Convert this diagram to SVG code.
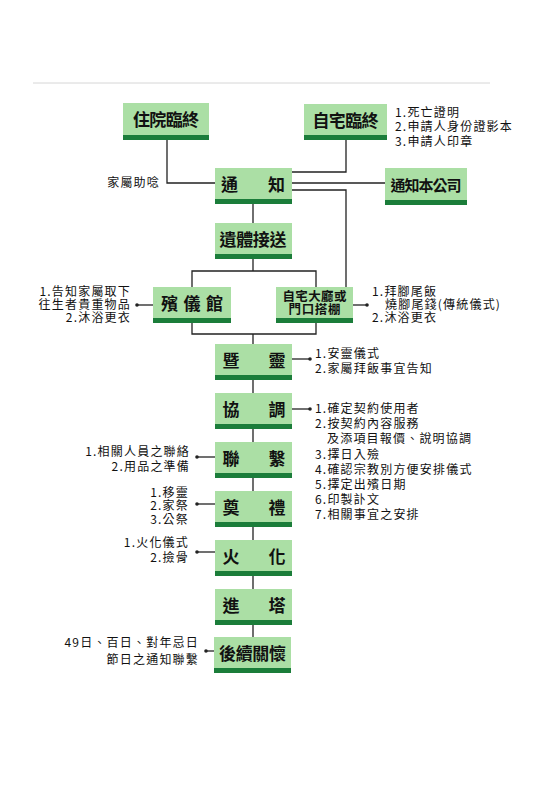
<svg xmlns="http://www.w3.org/2000/svg" width="560" height="792" viewBox="0 0 560 792">
<style>
.bx{fill:#abdfa5}
.bar{fill:#1b7d3a}
.lb{font-family:"Noto Sans CJK TC","Noto Sans CJK SC",sans-serif;font-weight:bold;font-size:17px;fill:#111;text-anchor:middle}
.lb2{font-size:12.5px}
.lb3{font-size:15px}
.sm{font-family:"Noto Sans CJK TC","Noto Sans CJK SC",sans-serif;font-size:12px;fill:#111;letter-spacing:1.2px}
.r{text-anchor:end}
.ln{fill:none;stroke:#222;stroke-width:1.3}
</style>
<defs>
<marker id="dot" viewBox="0 0 4 4" refX="2" refY="2" markerWidth="4" markerHeight="4" markerUnits="userSpaceOnUse"><circle cx="2" cy="2" r="1.8" fill="#222"/></marker>
</defs>
<rect width="560" height="792" fill="#fff"/>
<line x1="33" y1="83" x2="490" y2="83" stroke="#d6d6d6" stroke-width="1"/>

<g id="connectors">
<path class="ln" d="M167,140 V183 H215"/>
<path class="ln" d="M346,140 V172 H292"/>
<path class="ln" d="M292,183 H385"/>
<path class="ln" d="M292,190 H346 V287"/>
<path class="ln" d="M253,204 V223"/>
<path class="ln" d="M253,259 V271"/>
<path class="ln" d="M192,287 V271 H316 V287"/>
<path class="ln" d="M192,323 V334 H316 V323"/>
<path class="ln" d="M253,334 V344"/>
<path class="ln" d="M253,380 V393 M253,429 V442 M253,478 V491 M253,527 V540 M253,576 V589 M253,625 V637"/>
<path class="ln" d="M153,305 H137" marker-end="url(#dot)"/>
<path class="ln" d="M353,305 H367" marker-end="url(#dot)"/>
<path class="ln" d="M292,359 H310" marker-end="url(#dot)"/>
<path class="ln" d="M292,409 H310" marker-end="url(#dot)"/>
<path class="ln" d="M215,457 H197" marker-end="url(#dot)"/>
<path class="ln" d="M215,504 H197" marker-end="url(#dot)"/>
<path class="ln" d="M215,552 H197" marker-end="url(#dot)"/>
<path class="ln" d="M214,651 H206" marker-end="url(#dot)"/>
</g>

<g id="n_hospital"><rect class="bx" x="123" y="103" width="86" height="37"/><rect class="bar" x="123" y="135" width="86" height="5"/><text class="lb" x="166" y="126" textLength="66">住院臨終</text></g>
<g id="n_home"><rect class="bx" x="304" y="104" width="83" height="36"/><rect class="bar" x="304" y="135" width="83" height="5"/><text class="lb" x="345.5" y="127" textLength="66">自宅臨終</text></g>
<g id="n_home_note"><text class="sm" x="395" y="117">1.死亡證明</text><text class="sm" x="395" y="131">2.申請人身份證影本</text><text class="sm" x="395" y="146">3.申請人印章</text></g>
<g id="n_notify"><rect class="bx" x="215" y="168" width="77" height="36"/><rect class="bar" x="215" y="199" width="77" height="5"/><text class="lb" x="253" y="191" textLength="64">通知</text></g>
<g id="n_family_note"><text class="sm r" x="160" y="187">家屬助唸</text></g>
<g id="n_company"><rect class="bx" x="385" y="168" width="82" height="37"/><rect class="bar" x="385" y="200" width="82" height="5"/><text class="lb lb3" x="426" y="191" textLength="71">通知本公司</text></g>
<g id="n_transport"><rect class="bx" x="215" y="223" width="77" height="36"/><rect class="bar" x="215" y="254" width="77" height="5"/><text class="lb" x="253" y="246" textLength="67">遺體接送</text></g>
<g id="n_funeralhome"><rect class="bx" x="153" y="287" width="78" height="36"/><rect class="bar" x="153" y="318" width="78" height="5"/><text class="lb" x="192" y="310" textLength="62">殯儀館</text></g>
<g id="n_funeralhome_note"><text class="sm r" x="131" y="296">1.告知家屬取下</text><text class="sm r" x="131" y="309">往生者貴重物品</text><text class="sm r" x="131" y="322">2.沐浴更衣</text></g>
<g id="n_hall"><rect class="bx" x="276" y="287" width="77" height="36"/><rect class="bar" x="276" y="318" width="77" height="5"/><text class="lb lb2" x="314.5" y="301" textLength="64">自宅大廳或</text><text class="lb lb2" x="314.5" y="314" textLength="52">門口搭棚</text></g>
<g id="n_hall_note"><text class="sm" x="372" y="296">1.拜腳尾飯</text><text class="sm" x="385" y="309">燒腳尾錢(傳統儀式)</text><text class="sm" x="372" y="322">2.沐浴更衣</text></g>
<g id="n_anling"><rect class="bx" x="215" y="344" width="77" height="36"/><rect class="bar" x="215" y="375" width="77" height="5"/><text class="lb" x="254" y="367" textLength="63">暨靈</text></g>
<g id="n_anling_note"><text class="sm" x="315" y="358">1.安靈儀式</text><text class="sm" x="315" y="373">2.家屬拜飯事宜告知</text></g>
<g id="n_coord"><rect class="bx" x="215" y="393" width="77" height="36"/><rect class="bar" x="215" y="424" width="77" height="5"/><text class="lb" x="254" y="416" textLength="63">協調</text></g>
<g id="n_coord_note">
<text class="sm" x="315" y="413">1.確定契約使用者</text>
<text class="sm" x="315" y="428">2.按契約內容服務</text>
<text class="sm" x="327" y="443">及添項目報價、說明協調</text>
<text class="sm" x="315" y="459">3.擇日入殮</text>
<text class="sm" x="315" y="474">4.確認宗教別方便安排儀式</text>
<text class="sm" x="315" y="489">5.擇定出殯日期</text>
<text class="sm" x="315" y="504">6.印製訃文</text>
<text class="sm" x="315" y="519">7.相關事宜之安排</text>
</g>
<g id="n_contact"><rect class="bx" x="215" y="442" width="77" height="36"/><rect class="bar" x="215" y="473" width="77" height="5"/><text class="lb" x="254" y="465" textLength="63">聯繫</text></g>
<g id="n_contact_note"><text class="sm r" x="190" y="456">1.相關人員之聯絡</text><text class="sm r" x="190" y="471">2.用品之準備</text></g>
<g id="n_rite"><rect class="bx" x="215" y="491" width="77" height="36"/><rect class="bar" x="215" y="522" width="77" height="5"/><text class="lb" x="254" y="514" textLength="63">奠禮</text></g>
<g id="n_rite_note"><text class="sm r" x="189" y="497">1.移靈</text><text class="sm r" x="189" y="510">2.家祭</text><text class="sm r" x="189" y="524">3.公祭</text></g>
<g id="n_cremation"><rect class="bx" x="215" y="540" width="77" height="36"/><rect class="bar" x="215" y="571" width="77" height="5"/><text class="lb" x="254" y="563" textLength="63">火化</text></g>
<g id="n_cremation_note"><text class="sm r" x="189" y="547">1.火化儀式</text><text class="sm r" x="189" y="562">2.撿骨</text></g>
<g id="n_tower"><rect class="bx" x="215" y="589" width="77" height="36"/><rect class="bar" x="215" y="620" width="77" height="5"/><text class="lb" x="254" y="612" textLength="63">進塔</text></g>
<g id="n_care"><rect class="bx" x="214" y="637" width="77" height="36"/><rect class="bar" x="214" y="668" width="77" height="5"/><text class="lb" x="252.5" y="660" textLength="67">後續關懷</text></g>
<g id="n_care_note"><text class="sm r" x="199" y="647">49日、百日、對年忌日</text><text class="sm r" x="199" y="664">節日之通知聯繫</text></g>
</svg>
